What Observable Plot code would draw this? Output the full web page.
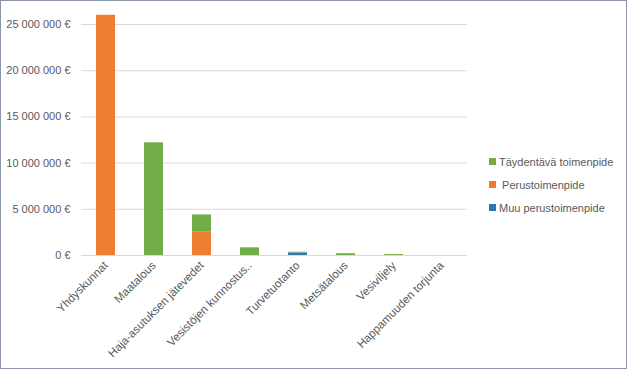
<!DOCTYPE html>
<html>
<head>
<meta charset="utf-8">
<script src="https://cdn.jsdelivr.net/npm/d3@7"></script>
<script src="https://cdn.jsdelivr.net/npm/@observablehq/plot@0.6"></script>
<style>
  body { margin: 0; background: #fff; font-family: "Liberation Sans", Arial, sans-serif; }
  #wrap { position: relative; width: 627px; height: 369px; overflow: hidden; }
  #frame { position: absolute; left: 0; top: 0; width: 627px; height: 369px; box-sizing: border-box; border: 1px solid #8a96a8; pointer-events: none; }
  #legend { position: absolute; left: 489px; top: 150px; font-size: 11px; color: #595959; }
  #legend .item { display: flex; align-items: center; height: 23px; white-space: nowrap; }
  #legend .sw { width: 7px; height: 7px; margin-right: 3px; flex: none; }
</style>
</head>
<body>
<div id="wrap"><div id="chart"></div><div id="legend"></div><div id="frame"></div></div>
<script>
const categories = ["Yhdyskunnat", "Maatalous", "Haja-asutuksen jätevedet", "Vesistöjen kunnostus..", "Turvetuotanto", "Metsätalous", "Vesiviljely", "Happamuuden torjunta"];
const seriesNames = ["Muu perustoimenpide", "Perustoimenpide", "Täydentävä toimenpide"];
const muu = [0, 0, 0, 0, 270000, 0, 0, 0];
const perus = [26000000, 0, 2520000, 0, 0, 0, 0, 0];
const taydentava = [0, 12200000, 1870000, 830000, 80000, 190000, 100000, 0];
const yTicks = [0, 5000000, 10000000, 15000000, 20000000, 25000000];
const colors = ["#2E75B6", "#ED7D31", "#70AD47"];

const seriesValues = [muu, perus, taydentava];
const data = [];
seriesNames.forEach((s, si) => categories.forEach((c, ci) => data.push({category: c, series: s, value: seriesValues[si][ci]})));

const fmt = d => d3.format(",")(d).replace(/,/g, "\u00a0") + "\u00a0€";

const chart = Plot.plot({
  width: 627,
  height: 369,
  marginLeft: 81,
  marginRight: 160,
  marginTop: 24,
  marginBottom: 114,
  style: {fontFamily: "'Liberation Sans', Arial, sans-serif", fontSize: "11px", color: "#595959", background: "transparent"},
  x: {domain: categories, paddingInner: 0.6, paddingOuter: 0.3, label: null},
  y: {domain: [0, 25000000], label: null},
  color: {domain: seriesNames, range: colors},
  marks: [
    Plot.gridY(yTicks, {stroke: "#d9d9d9", strokeOpacity: 1}),
    Plot.barY(data, {x: "category", y: "value", fill: "series", order: seriesNames}),
    Plot.axisY(yTicks, {tickSize: 0, tickPadding: 11, tickFormat: fmt, label: null, fill: "#595959"}),
    Plot.axisX({tickSize: 0, tickPadding: 8, tickRotate: -45, label: null, fill: "#595959", fontSize: 11.5})
  ]
});
document.getElementById("chart").appendChild(chart);

const legend = document.getElementById("legend");
[2, 1, 0].forEach(i => {
  const item = document.createElement("div");
  item.className = "item";
  const sw = document.createElement("span");
  sw.className = "sw";
  sw.style.background = colors[i];
  const t = document.createElement("span");
  t.textContent = (i === 1 ? "\u00a0" : "") + seriesNames[i];
  item.appendChild(sw); item.appendChild(t);
  legend.appendChild(item);
});
</script>
</body>
</html>
